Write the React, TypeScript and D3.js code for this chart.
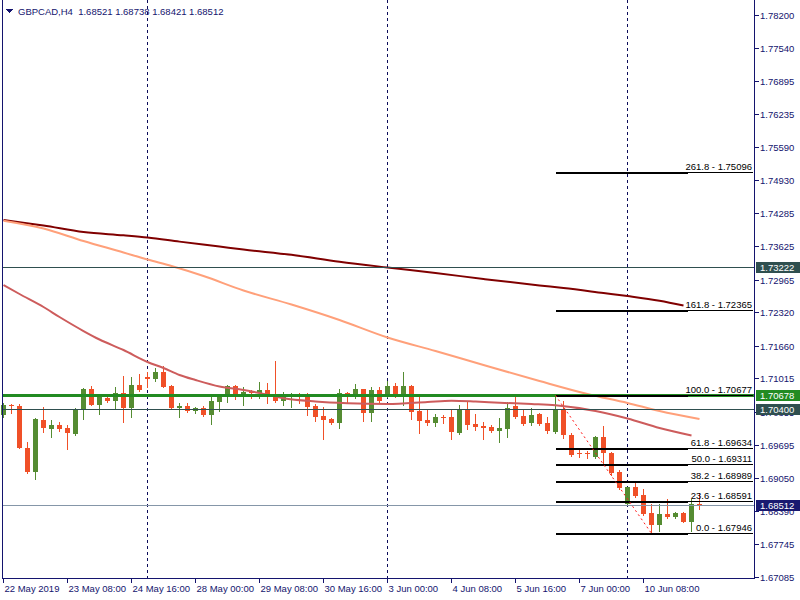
import React from 'react';
import * as d3 from 'd3';

// ---------- data ----------
const symbolTitle = 'GBPCAD,H4';
const lastBar = [1.68521, 1.68738, 1.68421, 1.68512];

const opens = [
  1.70289, 1.70493, 1.70467, 1.69646, 1.69167, 1.70190, 1.70018, 1.70091,
  1.70032, 1.69913, 1.70402, 1.70803, 1.70493, 1.70631, 1.70572, 1.70718,
  1.70433, 1.70882, 1.71046, 1.71007, 1.71139, 1.70862, 1.70433, 1.70467,
  1.70374, 1.70427, 1.70289, 1.70546, 1.70651, 1.70862, 1.70704, 1.70750,
  1.70718, 1.70783, 1.70710, 1.70572, 1.70645, 1.70679, 1.70665, 1.70467,
  1.70269, 1.70210, 1.70137, 1.70718, 1.70665, 1.70803, 1.70334, 1.70777,
  1.70665, 1.70862, 1.70651, 1.70862, 1.70368, 1.70190, 1.70137, 1.70249,
  1.70249, 1.69939, 1.70402, 1.70111, 1.70071, 1.70052, 1.69978, 1.70018,
  1.70467, 1.70269, 1.70125, 1.70303, 1.70125, 1.69959, 1.70402, 1.69893,
  1.69543, 1.69543, 1.69464, 1.69860, 1.69543, 1.69167, 1.68523, 1.68859,
  1.68699, 1.68345, 1.68114, 1.68331, 1.68277, 1.68357, 1.68178, 1.68521,
];
const highs = [
  1.70526, 1.70512, 1.70506, 1.69755, 1.70235, 1.70447, 1.70190, 1.70150,
  1.70091, 1.70433, 1.70823, 1.70862, 1.70704, 1.70684, 1.70843, 1.71060,
  1.71046, 1.71100, 1.71139, 1.71224, 1.71258, 1.70882, 1.70526, 1.70526,
  1.70447, 1.70467, 1.70665, 1.70698, 1.70882, 1.70882, 1.70843, 1.70783,
  1.70936, 1.70922, 1.71357, 1.70738, 1.70724, 1.70730, 1.70724, 1.70506,
  1.70447, 1.70230, 1.70797, 1.70734, 1.70902, 1.70813, 1.70849, 1.70837,
  1.70967, 1.70916, 1.71139, 1.70882, 1.70665, 1.70413, 1.70303, 1.70289,
  1.70402, 1.70487, 1.70572, 1.70309, 1.70156, 1.70091, 1.70230, 1.70552,
  1.70645, 1.70402, 1.70421, 1.70322, 1.70255, 1.70677, 1.70566, 1.69927,
  1.69630, 1.69583, 1.69874, 1.70071, 1.69563, 1.69201, 1.68871, 1.68938,
  1.68831, 1.68529, 1.68529, 1.68621, 1.68376, 1.68370, 1.68621, 1.68738,
];
const lows = [
  1.70249, 1.70334, 1.69636, 1.69148, 1.69029, 1.69953, 1.69860, 1.69972,
  1.69616, 1.69893, 1.70210, 1.70477, 1.70315, 1.70552, 1.70408, 1.70156,
  1.70255, 1.70769, 1.70849, 1.70967, 1.70837, 1.70408, 1.70255, 1.70354,
  1.70334, 1.70275, 1.70117, 1.70368, 1.70552, 1.70611, 1.70493, 1.70619,
  1.70619, 1.70532, 1.70552, 1.70493, 1.70453, 1.70532, 1.70295, 1.70176,
  1.69820, 1.70111, 1.70032, 1.70520, 1.70619, 1.70176, 1.70176, 1.70552,
  1.70651, 1.70639, 1.70487, 1.70210, 1.69939, 1.70091, 1.70077, 1.70137,
  1.69820, 1.69923, 1.70012, 1.69992, 1.69814, 1.69959, 1.69761, 1.69860,
  1.70230, 1.70091, 1.70101, 1.70091, 1.69927, 1.69927, 1.69828, 1.69478,
  1.69452, 1.69432, 1.69444, 1.69346, 1.69096, 1.68819, 1.68509, 1.68671,
  1.68311, 1.67946, 1.68003, 1.68246, 1.68252, 1.68167, 1.68003, 1.68421,
];
const closes = [
  1.70487, 1.70461, 1.69642, 1.69167, 1.70204, 1.70038, 1.70091, 1.70018,
  1.69927, 1.70402, 1.70803, 1.70493, 1.70651, 1.70572, 1.70718, 1.70433,
  1.70882, 1.70789, 1.71007, 1.71139, 1.70849, 1.70433, 1.70473, 1.70374,
  1.70427, 1.70289, 1.70566, 1.70665, 1.70862, 1.70704, 1.70744, 1.70718,
  1.70783, 1.70690, 1.70572, 1.70665, 1.70679, 1.70645, 1.70453, 1.70255,
  1.70190, 1.70137, 1.70718, 1.70671, 1.70803, 1.70334, 1.70777, 1.70572,
  1.70862, 1.70651, 1.70862, 1.70354, 1.70176, 1.70137, 1.70249, 1.70230,
  1.69959, 1.70402, 1.70097, 1.70052, 1.70038, 1.69978, 1.70032, 1.70437,
  1.70255, 1.70111, 1.70295, 1.70111, 1.69978, 1.70402, 1.69893, 1.69498,
  1.69518, 1.69518, 1.69860, 1.69531, 1.69148, 1.68839, 1.68859, 1.68685,
  1.68331, 1.68114, 1.68331, 1.68277, 1.68357, 1.68178, 1.68529, 1.68512,
];

// moving averages, sampled at bar indices
const maSlowIdx = [0, 5, 10, 15, 18, 22, 27, 30, 36, 42, 48, 54, 60, 67, 70, 75, 78, 82, 85];
const maSlowVal = [1.74146, 1.74037, 1.73908, 1.73843, 1.73799, 1.73718, 1.73621, 1.73562, 1.73457, 1.73321, 1.73206, 1.73097, 1.72979, 1.72850, 1.72801, 1.72702, 1.72642, 1.72550, 1.72455];
const maMidIdx = [0, 5, 10, 15, 18, 21, 25, 30, 36, 42, 48, 54, 60, 67, 73, 78, 82, 87];
const maMidVal = [1.74132, 1.73977, 1.73730, 1.73503, 1.73364, 1.73236, 1.73038, 1.72751, 1.72474, 1.72168, 1.71822, 1.71555, 1.71278, 1.70961, 1.70704, 1.70526, 1.70368, 1.70210];
const maFastIdx = [0, 2, 5, 7, 10, 12, 15, 18, 20, 22, 24, 27, 30, 32, 35, 39, 43, 48, 53, 56, 59, 62, 66, 69, 74, 78, 82, 86];
const maFastVal = [1.72860, 1.72682, 1.72425, 1.72227, 1.71950, 1.71782, 1.71574, 1.71337, 1.71218, 1.71080, 1.70981, 1.70853, 1.70783, 1.70724, 1.70619, 1.70556, 1.70522, 1.70506, 1.70546, 1.70572, 1.70556, 1.70532, 1.70506, 1.70481, 1.70368, 1.70220, 1.70032, 1.69883];

// Fibonacci retracement
const fibRatios = ['261.8', '161.8', '100.0', '61.8', '50.0', '38.2', '23.6', '0.0'];
const fibPrices = [1.75096, 1.72365, 1.70677, 1.69634, 1.69311, 1.68989, 1.68591, 1.67946];
const fibStartBar = 69;
const fibEndBar = 85.5;
const fibLowBar = 81;

// horizontal objects
const hSlatePrices = [1.73222, 1.70400];
const hGreenPrice = 1.70678;
const bidPrice = 1.68512;

// axes
const priceTicks = [1.78200, 1.77540, 1.76895, 1.76235, 1.75590, 1.74930, 1.74285, 1.73625, 1.72965, 1.72320, 1.71660, 1.71015, 1.70355, 1.69695, 1.69050, 1.68390, 1.67745, 1.67085];
const timeLabelBars = [0, 8, 16, 24, 32, 40, 48, 56, 64, 72, 80];
const timeLabels = ['22 May 2019', '23 May 08:00', '24 May 16:00', '28 May 00:00', '29 May 08:00', '30 May 16:00', '3 Jun 00:00', '4 Jun 08:00', '5 Jun 16:00', '7 Jun 00:00', '10 Jun 08:00'];
const separatorBars = [18, 48, 78];

// ---------- layout ----------
const W = 800;
const H = 600;
const plotLeft = 2;
const plotRight = 754;
const plotBottom = 578;
const FONT = "'Liberation Sans', Arial, sans-serif";
const FS = 9.5;
const AXIS_COLOR = '#14146e';
const UP = '#558c32';
const DOWN = '#f05028';

const x = d3.scaleLinear().domain([0, 87]).range([3.5, 699.5]);
const y = d3.scaleLinear().domain([1.67085, 1.782]).range([577, 15]);

const fmt = d3.format('.5f');

function maPath(idx: number[], vals: number[]) {
  const line = d3
    .line<number>()
    .x((_, k) => x(idx[k]))
    .y((v) => y(v))
    .curve(d3.curveMonotoneX);
  return line(vals) || '';
}

export default function App() {
  const candles = opens.map((o, i) => {
    const h = highs[i];
    const l = lows[i];
    const c = closes[i];
    const cx = x(i);
    const up = c >= o;
    const col = up ? UP : DOWN;
    const yTop = Math.round(y(Math.max(o, c)));
    const yBot = Math.round(y(Math.min(o, c)));
    return (
      <g key={i}>
        <line x1={cx} x2={cx} y1={Math.round(y(h))} y2={Math.round(y(l)) + 1} stroke={col} strokeWidth={1} />
        <rect x={cx - 2.5} y={yTop} width={5} height={Math.max(1, yBot - yTop)} fill={col} />
      </g>
    );
  });

  const fibX1 = x(fibStartBar);
  const fibX2 = x(fibEndBar);

  return (
    <svg
      width={W}
      height={H}
      style={{ position: 'absolute', left: 0, top: 0, display: 'block', background: '#fff' }}
      fontFamily={FONT}
      fontSize={FS}
      shapeRendering="crispEdges"
    >
      <rect x={0} y={0} width={W} height={H} fill="#fff" />

      {/* period separators */}
      {separatorBars.map((b) => (
        <line key={b} x1={x(b)} x2={x(b)} y1={0} y2={plotBottom} stroke="#0c0c5a" strokeWidth={1} strokeDasharray="3,3" />
      ))}

      {/* candles */}
      {candles}

      {/* moving averages */}
      <g fill="none" strokeWidth={2} shapeRendering="auto">
        <path d={maPath(maSlowIdx, maSlowVal)} stroke="#800000" />
        <path d={maPath(maMidIdx, maMidVal)} stroke="#ffa07a" />
        <path d={maPath(maFastIdx, maFastVal)} stroke="#cd5c5c" />
      </g>

      {/* horizontal lines */}
      {hSlatePrices.map((p) => (
        <line key={p} x1={plotLeft} x2={plotRight} y1={Math.round(y(p)) + 0.5} y2={Math.round(y(p)) + 0.5} stroke="#2f4f4f" strokeWidth={1} />
      ))}
      <line x1={plotLeft} x2={plotRight} y1={Math.round(y(hGreenPrice)) + 0.5} y2={Math.round(y(hGreenPrice)) + 0.5} stroke="#228b22" strokeWidth={3} />
      <line x1={plotLeft} x2={plotRight} y1={Math.round(y(bidPrice)) + 0.5} y2={Math.round(y(bidPrice)) + 0.5} stroke="#8596a8" strokeWidth={1} />

      {/* fibonacci */}
      {fibPrices.map((p, k) => {
        const yy = Math.round(y(p)) + 0.5;
        return (
          <g key={k}>
            <line x1={fibX1} x2={fibX2} y1={yy} y2={yy} stroke="#000" strokeWidth={2} />
            <line x1={fibX2} x2={plotRight - 1} y1={yy - 0.5} y2={yy - 0.5} stroke="#000" strokeWidth={1} />
            <text x={plotRight - 2} y={yy - 2.5} textAnchor="end" fill="#000" shapeRendering="auto">
              {`${fibRatios[k]} - ${fmt(p)}`}
            </text>
          </g>
        );
      })}
      <line
        x1={x(fibStartBar)}
        y1={y(fibPrices[2])}
        x2={x(fibLowBar)}
        y2={y(fibPrices[7])}
        stroke="#ff1a1a"
        strokeWidth={1}
        strokeDasharray="2,3"
        shapeRendering="auto"
      />

      {/* frame / axes */}
      <line x1={plotLeft + 0.5} x2={plotLeft + 0.5} y1={0} y2={plotBottom + 1} stroke={AXIS_COLOR} />
      <line x1={plotRight + 0.5} x2={plotRight + 0.5} y1={0} y2={plotBottom + 1} stroke={AXIS_COLOR} />
      <line x1={plotLeft} x2={plotRight + 1} y1={plotBottom + 0.5} y2={plotBottom + 0.5} stroke={AXIS_COLOR} />

      {/* price axis */}
      {priceTicks.map((p) => {
        const yy = Math.round(y(p)) + 0.5;
        return (
          <g key={p}>
            <line x1={plotRight + 1} x2={plotRight + 5} y1={yy} y2={yy} stroke={AXIS_COLOR} />
            <text x={760} y={yy + 3.5} fill={AXIS_COLOR} shapeRendering="auto">
              {fmt(p)}
            </text>
          </g>
        );
      })}

      {/* price labels */}
      {[
        { p: hSlatePrices[0], bg: '#2f4f4f' },
        { p: hGreenPrice, bg: '#228b22' },
        { p: hSlatePrices[1], bg: '#2f4f4f' },
        { p: bidPrice, bg: '#191970' },
      ].map(({ p, bg }) => {
        const yy = Math.round(y(p));
        return (
          <g key={p}>
            <rect x={756} y={yy - 5} width={44} height={11} fill={bg} />
            <text x={760} y={yy + 4} fill="#fff" shapeRendering="auto">
              {fmt(p)}
            </text>
          </g>
        );
      })}

      {/* time axis */}
      {timeLabelBars.map((b, k) => {
        const tx = Math.round(x(b) - 0.5) + 0.5;
        return (
          <g key={b}>
            <line x1={tx} x2={tx} y1={plotBottom + 1} y2={plotBottom + 5} stroke={AXIS_COLOR} />
            <text x={tx + 1} y={592} fill={AXIS_COLOR} shapeRendering="auto">
              {timeLabels[k]}
            </text>
          </g>
        );
      })}

      {/* header */}
      <path d="M6,9 L13,9 L9.5,13 Z" fill="#14146e" />
      <text x={18} y={14.5} fill={AXIS_COLOR} style={{ whiteSpace: 'pre' }} shapeRendering="auto">
        {`${symbolTitle}  ${lastBar.map((v) => fmt(v)).join(' ')}`}
      </text>
    </svg>
  );
}
